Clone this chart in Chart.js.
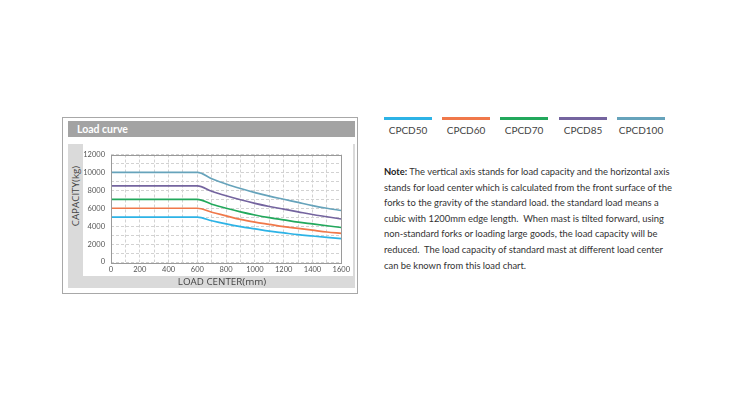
<!DOCTYPE html>
<html>
<head>
<meta charset="utf-8">
<script src="https://cdn.jsdelivr.net/npm/chart.js@4"></script>
<style>
  html, body { margin: 0; padding: 0; background: #fff; }
  body { width: 730px; height: 411px; position: relative; overflow: hidden; font-family: Lato, "Open Sans", sans-serif; }
  .frame { position: absolute; left: 62px; top: 117px; width: 294px; height: 175px; border: 1px solid #a8a8a8; }
  .head { position: absolute; left: 68px; top: 121px; width: 287px; height: 16px; background: #a3a3a3; color: #fff; font-weight: bold; font-size: 10.5px; line-height: 16px; padding-left: 9px; box-sizing: border-box; }
  .panel { position: absolute; left: 68px; top: 144px; width: 287px; height: 144px; background: #dadada; }
  .plot { position: absolute; left: 83px; top: 144px; width: 270px; height: 132px; background: #fff; }
  .ytitle { position: absolute; left: 75.5px; top: 196px; transform: translate(-50%, -50%) rotate(-90deg); font-size: 9.8px; line-height: 12px; color: #444; white-space: nowrap; font-family: "Open Sans", sans-serif; }
  .xtitle { position: absolute; left: 222px; top: 282px; transform: translate(-50%, -50%); font-size: 9.8px; line-height: 12px; color: #444; white-space: nowrap; font-family: "Open Sans", sans-serif; }
  .legend { position: absolute; top: 117px; height: 20px; text-align: center; font-size: 10px; color: #444; }
  .legend i { display: block; height: 2.5px; margin-bottom: 4px; }
  .note { position: absolute; left: 384px; top: 164px; width: 284px; font-size: 9.4px; line-height: 15.6px; color: #333; white-space: nowrap; }
  .note b { color: #222; }
</style>
</head>
<body>
<div class="frame"></div>
<div class="head">Load curve</div>
<div class="panel"></div>
<div class="plot"><canvas id="chart" width="270" height="132"></canvas></div>
<div class="ytitle">CAPACITY(kg)</div>
<div class="xtitle">LOAD CENTER(mm)</div>
<div id="legend"></div>
<div class="note"><b>Note:</b> The vertical axis stands for load capacity and the horizontal axis<br>stands for load center which is calculated from the front surface of the<br>forks to the gravity of the standard load. the standard load means a<br>cubic with 1200mm edge length.&nbsp; When mast is tilted forward, using<br>non-standard forks or loading large goods, the load capacity will be<br>reduced.&nbsp; The load capacity of standard mast at different load center<br>can be known from this load chart.</div>

<script>
// load center (mm)
const loadCenter = [0, 600, 700, 800, 900, 1000, 1100, 1200, 1300, 1400, 1500, 1600];

// capacity (kg) per model
const cpcd50  = [5000, 5000, 4600, 4250, 3950, 3700, 3450, 3250, 3050, 2900, 2750, 2600];
const cpcd60  = [6000, 6000, 5550, 5150, 4750, 4450, 4200, 3950, 3750, 3550, 3350, 3200];
const cpcd70  = [7000, 7000, 6450, 6000, 5600, 5250, 4950, 4700, 4450, 4250, 4050, 3850];
const cpcd85  = [8500, 8500, 7900, 7400, 6950, 6550, 6200, 5900, 5600, 5300, 5050, 4800];
const cpcd100 = [10000, 10000, 9300, 8700, 8200, 7750, 7350, 7000, 6650, 6300, 6000, 5750];

const seriesNames = ["CPCD50", "CPCD60", "CPCD70", "CPCD85", "CPCD100"];
const seriesData = [cpcd50, cpcd60, cpcd70, cpcd85, cpcd100];
const seriesColors = ["#2db3e6", "#f0784a", "#22a85c", "#74649f", "#66a3bb"];

// legend (html, sits apart from the chart box)
const legendX = [384, 442, 500, 559, 617];
const legendEl = document.getElementById("legend");
seriesNames.forEach(function (name, i) {
    const d = document.createElement("div");
    d.className = "legend";
    d.style.left = legendX[i] + "px";
    d.style.width = "48px";
    d.innerHTML = '<i style="background:' + seriesColors[i] + '"></i>' + name;
    legendEl.appendChild(d);
});

const frameBorder = {
    id: "frameBorder",
    afterDatasetsDraw(chart) {
        const a = chart.chartArea, c = chart.ctx;
        c.save();
        c.strokeStyle = "#9a9a9a";
        c.lineWidth = 1;
        c.strokeRect(Math.round(a.left) + 0.5, Math.round(a.top) + 0.5, Math.round(a.right - a.left), Math.round(a.bottom - a.top));
        c.restore();
    }
};

new Chart(document.getElementById("chart"), {
    type: "line",
    data: {
        datasets: seriesData.map(function (vals, i) {
            return {
                label: seriesNames[i],
                data: vals.map((v, j) => ({ x: loadCenter[j], y: v })),
                borderColor: seriesColors[i],
                borderWidth: 1.7,
                pointRadius: 0,
                cubicInterpolationMode: "monotone",
                fill: false
            };
        })
    },
    options: {
        responsive: false,
        animation: false,
        layout: { padding: { left: 0, top: 3, right: 5, bottom: 0 } },
        plugins: { legend: { display: false }, tooltip: { enabled: false } },
        scales: {
            x: {
                type: "linear",
                min: 0, max: 1600,
                afterFit: s => { s.height = 14; },
                ticks: {
                    stepSize: 100, autoSkip: false, maxRotation: 0, padding: 3,
                    color: "#555", font: { family: "Lato", size: 7.5 },
                    callback: v => (v % 200 === 0 ? v : "")
                },
                grid: { color: "#d2d2d2", drawTicks: false },
                border: { display: false, dash: [3, 2] }
            },
            y: {
                min: 0, max: 12000,
                afterFit: s => { s.width = 28; },
                ticks: {
                    stepSize: 1000, autoSkip: false, padding: 6,
                    color: "#555", font: { family: "Lato", size: 7.5 },
                    callback: v => (v % 2000 === 0 ? v : "")
                },
                grid: { color: "#d2d2d2", drawTicks: false },
                border: { display: false, dash: [3, 2] }
            }
        }
    },
    plugins: [frameBorder]
});
</script>
</body>
</html>
